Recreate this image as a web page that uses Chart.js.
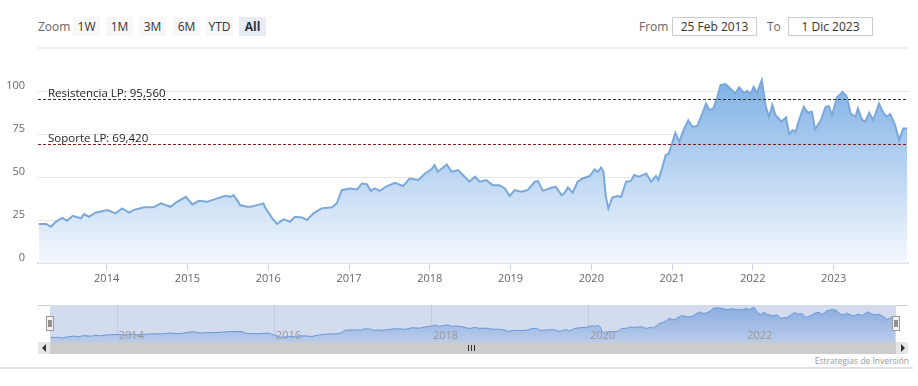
<!DOCTYPE html>
<html lang="es">
<head>
<meta charset="utf-8">
<title>Cotización</title>
<script src="https://cdn.jsdelivr.net/npm/chart.js@4.4.0/dist/chart.umd.min.js"></script>
<style>
  body { margin: 0; background: #fff; font-family: "Open Sans", sans-serif; }
  #wrap { position: relative; width: 918px; height: 386px; overflow: hidden; }
  .abs { position: absolute; }
  .lbl { font-size: 12px; color: #666; line-height: 19px; top: 17px; }
  .btn { top: 17px; width: 27px; height: 19px; line-height: 19px; background: #f7f7f7; color: #333; font-size: 12px; text-align: center; }
  .btn.sel { background: #e6ebf5; font-weight: bold; }
  .caja { top: 17px; height: 17px; line-height: 17px; border: 1px solid #cccccc; font-size: 12px; color: #333; text-align: center; }
  #linea-top { left: 37px; top: 47px; width: 871px; height: 2px; background: #f0f0f0; }
  #linea-fin { left: 0; top: 367px; width: 913px; height: 2px; background: #e0e0ea; }
  #grafico { left: 0; top: 0; }
  #navegador { left: 38px; top: 305px; }
  .scr { top: 342px; height: 12px; }
  #scr-izq, #scr-der { width: 12px; background: #e6e6e6; }
  #scr-izq { left: 38px; }
  #scr-der { left: 896px; }
  #scr-barra { left: 50px; width: 846px; background: #cccccc; }
  .flecha { position: absolute; top: 2px; width: 0; height: 0; border-top: 4px solid transparent; border-bottom: 4px solid transparent; }
  #scr-izq .flecha { left: 4px; border-right: 4px solid #333; }
  #scr-der .flecha { left: 5px; border-left: 4px solid #333; }
  .grip { position: absolute; top: 3px; width: 1px; height: 6px; background: #333; }
  #creditos { right: 9px; top: 355px; font-size: 8.5px; line-height: 12px; color: #999; }
</style>
</head>
<body>
<div id="wrap">
  <!-- selector de rango -->
  <div class="abs lbl" style="left:38px;">Zoom</div>
  <div class="abs btn" style="left:73px;">1W</div>
  <div class="abs btn" style="left:106px;">1M</div>
  <div class="abs btn" style="left:139px;">3M</div>
  <div class="abs btn" style="left:173px;">6M</div>
  <div class="abs btn" style="left:206px;">YTD</div>
  <div class="abs btn sel" style="left:239px;">All</div>

  <div class="abs lbl" style="left:639px;">From</div>
  <div class="abs caja" style="left:672px; width:83px;">25 Feb 2013</div>
  <div class="abs lbl" style="left:767px;">To</div>
  <div class="abs caja" style="left:788px; width:83px;">1 Dic 2023</div>

  <div class="abs" id="linea-top"></div>

  <canvas class="abs" id="grafico" width="918" height="300"></canvas>
  <canvas class="abs" id="navegador" width="870" height="37"></canvas>

  <!-- scrollbar -->
  <div class="abs scr" id="scr-barra">
    <div class="grip" style="left:418px;"></div>
    <div class="grip" style="left:421px;"></div>
    <div class="grip" style="left:424px;"></div>
  </div>
  <div class="abs scr" id="scr-izq"><div class="flecha"></div></div>
  <div class="abs scr" id="scr-der"><div class="flecha"></div></div>

  <div class="abs" id="creditos">Estrategias de Inversión</div>
  <div class="abs" id="linea-fin"></div>
</div>

<script>
// --- DATOS ---
// fechas en años decimales
const fechas = [
  2013.16, 2013.25, 2013.31, 2013.37, 2013.45, 2013.51, 2013.58, 2013.68, 2013.72, 2013.78, 2013.86,
  2014.01, 2014.11, 2014.19, 2014.28, 2014.33, 2014.46, 2014.58, 2014.67, 2014.79, 2014.87, 2014.98,
  2015.06, 2015.14, 2015.24, 2015.37, 2015.47, 2015.53, 2015.57, 2015.63, 2015.65, 2015.74, 2015.78, 2015.86, 2015.94, 2015.96,
  2016.05, 2016.11, 2016.19, 2016.27, 2016.33, 2016.42, 2016.48, 2016.56, 2016.66, 2016.79, 2016.85, 2016.91,
  2017.01, 2017.10, 2017.16, 2017.22, 2017.27, 2017.32, 2017.38, 2017.47, 2017.57, 2017.67, 2017.75, 2017.86, 2017.94,
  2018.02, 2018.06, 2018.10, 2018.21, 2018.27, 2018.35, 2018.41, 2018.49, 2018.56, 2018.62, 2018.70, 2018.78, 2018.86, 2018.93, 2018.99,
  2019.05, 2019.13, 2019.21, 2019.30, 2019.34, 2019.40, 2019.48, 2019.56, 2019.63, 2019.67, 2019.71, 2019.77, 2019.83, 2019.89, 2019.98,
  2020.04, 2020.08, 2020.12, 2020.15, 2020.18, 2020.21, 2020.26, 2020.33, 2020.37, 2020.43, 2020.49, 2020.53, 2020.59, 2020.68, 2020.74, 2020.80, 2020.83, 2020.88, 2020.92, 2020.96,
  2021.00, 2021.04, 2021.09, 2021.14, 2021.20, 2021.25, 2021.31, 2021.35, 2021.42, 2021.46, 2021.51, 2021.56, 2021.60, 2021.66, 2021.72, 2021.78, 2021.83, 2021.89, 2021.93, 2021.97,
  2022.01, 2022.05, 2022.11, 2022.16, 2022.20, 2022.24, 2022.28, 2022.32, 2022.35, 2022.41, 2022.45, 2022.49, 2022.53, 2022.57, 2022.63, 2022.68, 2022.73, 2022.77, 2022.84, 2022.90, 2022.94, 2022.98,
  2023.04, 2023.11, 2023.16, 2023.21, 2023.27, 2023.30, 2023.35, 2023.39, 2023.44, 2023.49, 2023.56, 2023.62, 2023.66, 2023.70, 2023.76, 2023.81, 2023.86, 2023.91
];
const precios = [
  22.7, 22.7, 21.1, 24, 26.3, 24.6, 27.5, 26, 28.5, 26.9, 29.3,
  30.8, 28.9, 31.8, 29.3, 30.8, 32.4, 32.4, 34.7, 32.7, 35.6, 38.5,
  34.1, 36.2, 35.6, 37.6, 39.1, 38.5, 39.5, 35.6, 33.7, 32.7, 32.7, 33.7, 34.7, 32.4,
  26, 22.7, 25.4, 24, 26.9, 26.5, 25, 28.9, 31.8, 32.4, 34.7, 42.4,
  43.4, 42.8, 46.3, 45.9, 42, 43.4, 42, 44.8, 46.7, 44.8, 49.2, 48.3, 52.1,
  54.5, 57, 53.1, 57.4, 53.1, 54.1, 51.2, 47.3, 50.2, 47.3, 48.3, 45.3, 45.3, 43.4, 39,
  42.4, 41.5, 42.4, 47.3, 47.7, 42, 43.4, 44.4, 39.5, 40.9, 44, 40.9, 47.3, 49.2, 50.6,
  54.5, 53.1, 55.6, 53.1, 38.5, 31.8, 38.2, 39, 38.5, 47.3, 47.8, 51.2, 50.2, 52.1, 47.3, 50.6, 48.3, 56, 62.8, 63.8,
  69.6, 75.8, 70.5, 77.3, 83.1, 79.3, 79.7, 84.1, 92.8, 89, 89.9, 96.7, 103.5, 104.1, 101.6, 98.7, 102.2, 99, 100.2, 98.3,
  102.5, 99, 106.4, 90.9, 85.1, 91.9, 86, 84.1, 82.2, 84.7, 75, 77.3, 76.4, 83.1, 90.9, 87.4, 88, 77.7, 83.1, 90.9, 91.3, 86,
  96.3, 99.6, 97.1, 87, 85.1, 89.9, 83.5, 82.2, 87.4, 83.1, 92.8, 87, 85.1, 86.6, 80.2, 71.5, 78.3, 78.3
];

const anios = [2014, 2015, 2016, 2017, 2018, 2019, 2020, 2021, 2022, 2023];
const aniosNav = [2014, 2016, 2018, 2020, 2022];
const yTicks = [0, 25, 50, 75, 100];

// soporte / resistencia de largo plazo
const nivelesValores = [95.56, 69.42];
const nivelesTextos = ['Resistencia LP: 95,560', 'Soporte LP: 69,420'];

const desde = 2013.15, hasta = 2023.92;
const fuente = '"Open Sans", sans-serif';

const puntos = fechas.map((f, i) => ({ x: f, y: precios[i] }));

// degradado vertical del área
function degradado(ctx, arriba, abajo) {
  const area = ctx.chart.chartArea;
  if (!area) return arriba;
  const g = ctx.chart.ctx.createLinearGradient(0, area.top, 0, area.bottom);
  g.addColorStop(0, arriba);
  g.addColorStop(1, abajo);
  return g;
}

// --- LINEAS DE SOPORTE / RESISTENCIA ---
const nivelesPlugin = {
  id: 'niveles',
  afterDatasetsDraw(chart) {
    const { ctx, chartArea: a, scales: { y } } = chart;
    const colores = ['#1f3a1f', '#8b1a1a'];
    nivelesValores.forEach((v, i) => {
      const py = Math.round(y.getPixelForValue(v)) + 0.5;
      ctx.save();
      ctx.strokeStyle = colores[i];
      ctx.lineWidth = 1;
      ctx.setLineDash([3, 2]);
      ctx.beginPath();
      ctx.moveTo(a.left, py);
      ctx.lineTo(a.right, py);
      ctx.stroke();
      ctx.setLineDash([]);
      ctx.fillStyle = '#222';
      ctx.font = '11.5px ' + fuente;
      ctx.textBaseline = 'alphabetic';
      ctx.fillText(nivelesTextos[i], a.left + 10, py - 3);
      ctx.restore();
    });
  }
};

// --- GRAFICO PRINCIPAL ---
new Chart(document.getElementById('grafico'), {
  type: 'line',
  data: {
    datasets: [{
      data: puntos,
      borderColor: '#7ba8da',
      borderWidth: 2,
      pointRadius: 0,
      tension: 0,
      fill: 'start',
      backgroundColor: c => degradado(c, 'rgba(116,170,228,0.95)', 'rgba(242,247,253,0.9)')
    }]
  },
  options: {
    responsive: false,
    animation: false,
    layout: { padding: { top: 74, right: 10, left: 0, bottom: 0 } },
    plugins: { legend: { display: false }, tooltip: { enabled: false } },
    scales: {
      x: {
        type: 'linear', min: desde, max: hasta,
        afterBuildTicks: s => { s.ticks = anios.map(v => ({ value: v })); },
        afterFit: s => { s.height = 37; },
        grid: { drawOnChartArea: false, tickLength: 7, color: '#ccd6eb' },
        border: { color: '#dde2eb', width: 2 },
        ticks: { color: '#666', font: { family: fuente, size: 11 }, padding: 2, maxRotation: 0, callback: v => String(v) }
      },
      y: {
        min: 0, max: 110,
        afterBuildTicks: s => { s.ticks = yTicks.map(v => ({ value: v })); },
        afterFit: s => { s.width = 38; },
        grid: { color: '#e6e6e6', drawTicks: false },
        border: { display: false },
        ticks: { color: '#666', font: { family: fuente, size: 11 }, padding: 13, labelOffset: -5 }
      }
    }
  },
  plugins: [nivelesPlugin]
});

// --- NAVEGADOR ---
const navegadorPlugin = {
  id: 'navegador',
  beforeDatasetsDraw(chart) {
    const { ctx, chartArea: a, scales: { x } } = chart;
    ctx.save();
    ctx.fillStyle = '#d3dbee';
    ctx.fillRect(a.left, a.top, a.right - a.left, a.bottom - a.top);
    ctx.strokeStyle = '#c2cadc';
    ctx.lineWidth = 1;
    aniosNav.forEach(v => {
      const px = Math.round(x.getPixelForValue(v)) + 0.5;
      ctx.beginPath(); ctx.moveTo(px, a.top); ctx.lineTo(px, a.bottom); ctx.stroke();
    });
    ctx.restore();
  },
  afterDatasetsDraw(chart) {
    const { ctx, chartArea: a, scales: { x }, width } = chart;
    ctx.save();
    // etiquetas de años
    ctx.fillStyle = '#999';
    ctx.font = '11px ' + fuente;
    ctx.textBaseline = 'alphabetic';
    aniosNav.forEach(v => ctx.fillText(String(v), x.getPixelForValue(v) + 2, 34));
    // contorno
    ctx.strokeStyle = '#cccccc';
    ctx.beginPath();
    ctx.moveTo(0, 0.5); ctx.lineTo(a.left, 0.5);
    ctx.moveTo(a.right, 0.5); ctx.lineTo(width, 0.5);
    ctx.stroke();
    // asas
    [a.left, a.right].forEach(px => {
      const hx = Math.round(px) - 3.5;
      ctx.fillStyle = '#f2f2f2';
      ctx.strokeStyle = '#999';
      ctx.fillRect(hx, 11.5, 7, 14);
      ctx.strokeRect(hx, 11.5, 7, 14);
      ctx.strokeStyle = '#333';
      ctx.beginPath();
      ctx.moveTo(hx + 2.5, 15); ctx.lineTo(hx + 2.5, 22);
      ctx.moveTo(hx + 4.5, 15); ctx.lineTo(hx + 4.5, 22);
      ctx.stroke();
    });
    ctx.restore();
  }
};

new Chart(document.getElementById('navegador'), {
  type: 'line',
  data: {
    datasets: [{
      data: puntos,
      borderColor: '#6a98d6',
      borderWidth: 1,
      pointRadius: 0,
      tension: 0,
      fill: 'start',
      backgroundColor: c => degradado(c, '#87abe0', '#b9cbea')
    }]
  },
  options: {
    responsive: false,
    animation: false,
    layout: { padding: { left: 12, right: 12, top: 0, bottom: 0 } },
    plugins: { legend: { display: false }, tooltip: { enabled: false } },
    scales: {
      x: { type: 'linear', display: false, min: desde, max: hasta },
      y: { display: false, min: 10, max: 112 }
    }
  },
  plugins: [navegadorPlugin]
});
</script>
</body>
</html>
